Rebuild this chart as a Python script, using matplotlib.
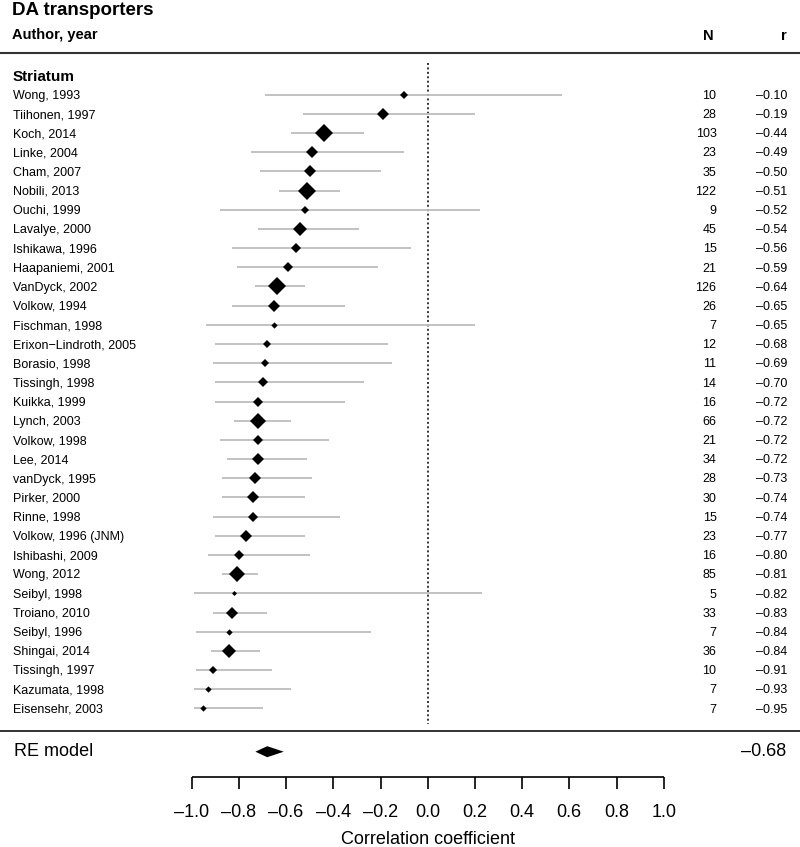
import numpy as np
import matplotlib.pyplot as plt

plt.rcParams['font.family'] = ['Liberation Sans', 'DejaVu Sans']

'''Study data (striatum, DA transporters)'''
authors = ['Wong, 1993', 'Tiihonen, 1997', 'Koch, 2014', 'Linke, 2004', 'Cham, 2007',
           'Nobili, 2013', 'Ouchi, 1999', 'Lavalye, 2000', 'Ishikawa, 1996',
           'Haapaniemi, 2001', 'VanDyck, 2002', 'Volkow, 1994', 'Fischman, 1998',
           'Erixon\u2212Lindroth, 2005', 'Borasio, 1998', 'Tissingh, 1998', 'Kuikka, 1999',
           'Lynch, 2003', 'Volkow, 1998', 'Lee, 2014', 'vanDyck, 1995', 'Pirker, 2000',
           'Rinne, 1998', 'Volkow, 1996 (JNM)', 'Ishibashi, 2009', 'Wong, 2012',
           'Seibyl, 1998', 'Troiano, 2010', 'Seibyl, 1996', 'Shingai, 2014',
           'Tissingh, 1997', 'Kazumata, 1998', 'Eisensehr, 2003']
n = [10, 28, 103, 23, 35, 122, 9, 45, 15, 21, 126, 26, 7, 12, 11, 14, 16, 66, 21, 34,
     28, 30, 15, 23, 16, 85, 5, 33, 7, 36, 10, 7, 7]
r = [-0.10, -0.19, -0.44, -0.49, -0.50, -0.51, -0.52, -0.54, -0.56, -0.59, -0.64, -0.65,
     -0.65, -0.68, -0.69, -0.70, -0.72, -0.72, -0.72, -0.72, -0.73, -0.74, -0.74, -0.77,
     -0.80, -0.81, -0.82, -0.83, -0.84, -0.84, -0.91, -0.93, -0.95]
ci_lo = [-0.69, -0.53, -0.58, -0.75, -0.71, -0.63, -0.88, -0.72, -0.83, -0.81, -0.73,
         -0.83, -0.94, -0.90, -0.91, -0.90, -0.90, -0.82, -0.88, -0.85, -0.87, -0.87,
         -0.91, -0.90, -0.93, -0.87, -0.99, -0.91, -0.98, -0.92, -0.98, -0.99, -0.99]
ci_hi = [0.57, 0.20, -0.27, -0.10, -0.20, -0.37, 0.22, -0.29, -0.07, -0.21, -0.52,
         -0.35, 0.20, -0.17, -0.15, -0.27, -0.35, -0.58, -0.42, -0.51, -0.49, -0.52,
         -0.37, -0.52, -0.50, -0.72, 0.23, -0.68, -0.24, -0.71, -0.66, -0.58, -0.70]
re_est = -0.68
re_lo = -0.73
re_hi = -0.61
xticks = [-1.0, -0.8, -0.6, -0.4, -0.2, 0.0, 0.2, 0.4, 0.6, 0.8, 1.0]


def fmt(v, d=2):
    s = '%.*f' % (d, v)
    return s.replace('-', '\u2013')


def px(x):
    # pixel column -> data x
    return (x - 427.7) / 236.0


fig = plt.figure(figsize=(8, 8.47), dpi=100)
ax = fig.add_axes([0, 0, 1, 1])
ax.set_xlim(px(0), px(800))
ax.set_ylim(847, 0)
ax.axis('off')

'''Headers'''
ax.text(px(12), 15, 'DA transporters', fontsize=13.5, fontweight='bold', va='baseline')
ax.text(px(12), 39.5, 'Author, year', fontsize=10.5, fontweight='bold', va='baseline')
ax.text(px(708), 39.5, 'N', fontsize=10.5, fontweight='bold', va='baseline', ha='center')
ax.text(px(786.5), 39.5, 'r', fontsize=10.5, fontweight='bold', va='baseline', ha='right')
ax.axhline(53.3, color='#333333', lw=1.5)
ax.text(px(13), 80.7, 'Striatum', fontsize=11, fontweight='bold', va='baseline')

'''Studies'''
row_y = 94.7 + 19.18 * np.arange(len(authors))
n_arr = np.array(n, dtype=float)
w = 1.0 / (1.0 / (n_arr - 3) + 0.015)
sw = np.sqrt(w)
width_px = 5 + 12.7 * (sw - sw.min()) / (sw.max() - sw.min())
ms = width_px * 72 / 100 / np.sqrt(2)

ax.vlines(0, 63, 724, color='black', lw=1.1, linestyles=(0, (1.3, 1.6)))
ax.hlines(row_y, ci_lo, ci_hi, color='#bdbdbd', lw=1.3)
for i in range(len(authors)):
    ax.plot(r[i], row_y[i], marker='D', ms=ms[i], color='black', mew=0, ls='none')
    ax.text(px(13), row_y[i] + 4.2, authors[i], fontsize=9, va='baseline')
    ax.text(px(716.5), row_y[i] + 4.2, str(n[i]), fontsize=9, va='baseline', ha='right')
    ax.text(px(787), row_y[i] + 4.2, fmt(r[i]), fontsize=9, va='baseline', ha='right')

'''RE model'''
ax.axhline(731, color='#222222', lw=1.3)
ax.fill([re_lo, re_est, re_hi, re_est], [751.7, 746.2, 751.7, 757.2], color='black', lw=0)
ax.text(px(14), 756, 'RE model', fontsize=13, va='baseline')
ax.text(px(786.7), 756, fmt(re_est), fontsize=13, va='baseline', ha='right')

'''Axis'''
ax.hlines(777.3, xticks[0], xticks[-1], color='black', lw=1.2)
ax.vlines(xticks, 777.3, 789, color='black', lw=1.2)
for t in xticks:
    ax.text(t, 816.7, fmt(t, 1), fontsize=13, va='baseline', ha='center')
ax.text(0, 844.5, 'Correlation coefficient', fontsize=13, va='baseline', ha='center')

plt.savefig('out.png', dpi=100)
